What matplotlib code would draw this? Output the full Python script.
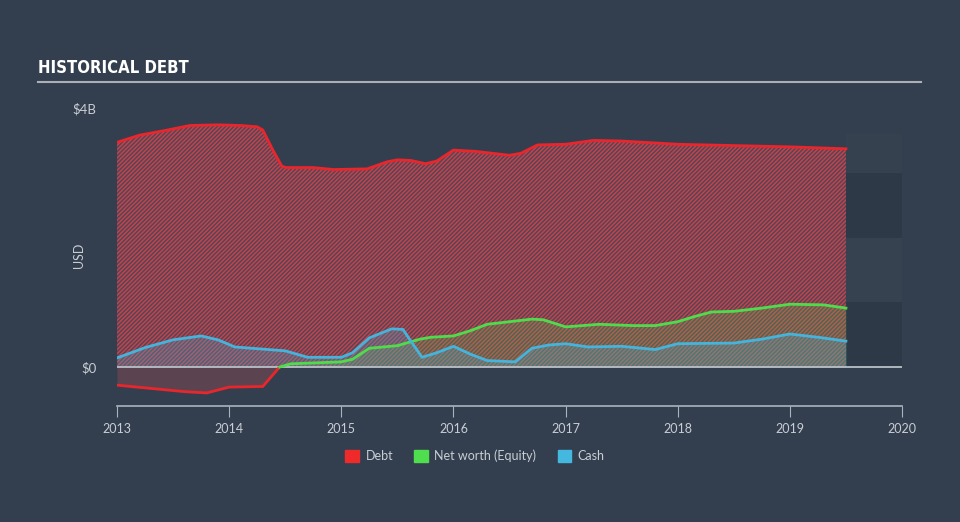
import numpy as np
import matplotlib
matplotlib.use("Agg")
import matplotlib.pyplot as plt
from matplotlib.patches import Patch

# values in $B, time in decimal years
debt_t = [2013.0, 2013.2, 2013.45, 2013.65, 2013.9, 2014.1, 2014.25, 2014.3, 2014.39, 2014.47,
          2014.51, 2014.75, 2014.93, 2015.23, 2015.41, 2015.5, 2015.62, 2015.75, 2015.85, 2016.0,
          2016.2, 2016.5, 2016.6, 2016.75, 2017.0, 2017.25, 2017.5, 2018.0, 2018.5, 2019.0, 2019.5]
debt = [3.47, 3.58, 3.66, 3.73, 3.74, 3.73, 3.71, 3.66, 3.35, 3.10,
        3.08, 3.08, 3.05, 3.06, 3.17, 3.20, 3.19, 3.14, 3.18, 3.35,
        3.33, 3.27, 3.30, 3.43, 3.44, 3.50, 3.49, 3.44, 3.42, 3.40, 3.37]

equity_t = [2013.0, 2013.3, 2013.6, 2013.8, 2014.0, 2014.3, 2014.45, 2014.55, 2015.0, 2015.1,
            2015.25, 2015.5, 2015.7, 2015.8, 2016.0, 2016.15, 2016.3, 2016.5, 2016.7, 2016.8,
            2017.0, 2017.3, 2017.6, 2017.8, 2018.0, 2018.15, 2018.3, 2018.5, 2018.75, 2019.0,
            2019.3, 2019.5]
equity = [-0.28, -0.33, -0.38, -0.40, -0.31, -0.30, 0.0, 0.05, 0.08, 0.12,
          0.29, 0.33, 0.43, 0.46, 0.48, 0.56, 0.66, 0.70, 0.74, 0.73,
          0.62, 0.66, 0.64, 0.64, 0.70, 0.78, 0.85, 0.86, 0.91, 0.97,
          0.96, 0.91]

cash_t = [2013.0, 2013.25, 2013.5, 2013.75, 2013.9, 2014.05, 2014.5, 2014.7, 2015.0, 2015.1,
          2015.25, 2015.45, 2015.55, 2015.62, 2015.72, 2015.85, 2016.0, 2016.15, 2016.3, 2016.55,
          2016.7, 2016.85, 2017.0, 2017.2, 2017.5, 2017.8, 2018.0, 2018.5, 2018.75, 2019.0,
          2019.25, 2019.5]
cash = [0.14, 0.30, 0.42, 0.48, 0.42, 0.31, 0.25, 0.15, 0.15, 0.22,
        0.45, 0.59, 0.58, 0.40, 0.15, 0.22, 0.32, 0.20, 0.10, 0.08,
        0.29, 0.34, 0.36, 0.31, 0.32, 0.27, 0.36, 0.37, 0.43, 0.51,
        0.46, 0.40]

years = [2013, 2014, 2015, 2016, 2017, 2018, 2019, 2020]

BG = '#333f4f'
TXT = '#c8ced4'
RED = '#e8262c'
GREEN = '#4fdc4c'
BLUE = '#44b4dc'
FONT = ['Lato', 'DejaVu Sans']

plt.rcParams['hatch.linewidth'] = 1.1
plt.rcParams['font.family'] = FONT

fig = plt.figure(figsize=(9.6, 5.22), dpi=100, facecolor=BG)
ax = fig.add_axes([0.1219, 0.2222, 0.8177, 0.5709], facecolor=BG)

# future-region gridline bands
for lo, hi, c in [(0, 1, '#2e3947'), (1, 2, '#36424f'), (2, 3, '#2e3947'), (3, 3.6, '#35414f')]:
    ax.fill_between([2019.5, 2020], lo, hi, color=c, lw=0, zorder=0)

# debt area
ax.fill_between(debt_t, 0, debt, facecolor='#4a4858', edgecolor='#c8404a',
                hatch='////////', lw=0, zorder=1)

eq_t = np.array(equity_t)
eq = np.array(equity)
neg = eq_t <= 2014.45
pos = eq_t >= 2014.45
ax.fill_between(eq_t[neg], 0, eq[neg], color='#5b4450', lw=0, zorder=2)
ax.fill_between(eq_t[pos], 0, eq[pos], color=GREEN, alpha=0.2, lw=0, zorder=2)
ax.fill_between(cash_t, 0, cash, color=BLUE, alpha=0.25, lw=0, zorder=3)

ax.axhline(0, color='#b9c0c7', lw=1.3, zorder=4)

ax.plot(debt_t, debt, color=RED, lw=2, zorder=5)
ax.plot(eq_t[neg], eq[neg], color=RED, lw=2, zorder=5)
ax.plot(eq_t[pos], eq[pos], color=GREEN, lw=2, zorder=5)
ax.plot(cash_t, cash, color=BLUE, lw=2, zorder=5)

ax.set_xlim(2013, 2020)
ax.set_ylim(-0.602, 4.0)
ax.set_xticks(years)
ax.set_xticklabels([str(y) for y in years], color=TXT, fontsize=9)
ax.tick_params(axis='x', length=8, color='#aab4be', pad=4)
ax.set_yticks([0, 4])
ax.set_yticklabels(['$0', '$4B'], color=TXT, fontsize=9.5)
ax.tick_params(axis='y', length=0, pad=15)
for s in ['top', 'right', 'left']:
    ax.spines[s].set_visible(False)
ax.spines['bottom'].set_color('#aab4be')
ax.spines['bottom'].set_linewidth(1.2)
ax.set_ylabel('USD', color=TXT, fontsize=9)
ax.yaxis.set_label_coords(-0.041, 0.507)

fig.text(38 / 960, 1 - 68 / 522, 'HISTORICAL DEBT', color='white', fontsize=12, fontweight='bold',
         family=['DejaVu Sans Condensed', 'Liberation Sans Narrow', 'DejaVu Sans'],
         fontstretch='condensed', va='center', ha='left')
fig.add_artist(plt.Line2D([38 / 960, 921 / 960], [1 - 82 / 522, 1 - 82 / 522], color='#aab0b6', lw=1.5))

handles = [Patch(color='#ee2a2a', label='Debt'), Patch(color='#4ede4e', label='Net worth (Equity)'),
           Patch(color='#45b8e0', label='Cash')]
leg = fig.legend(handles=handles, loc='center', bbox_to_anchor=(475 / 960, 1 - 456 / 522), ncol=3,
                 frameon=False, fontsize=9, handlelength=1.1, handleheight=1.1, handletextpad=0.5,
                 columnspacing=1.7)
for t in leg.get_texts():
    t.set_color(TXT)

fig.savefig('out.png', dpi=100, facecolor=BG)
